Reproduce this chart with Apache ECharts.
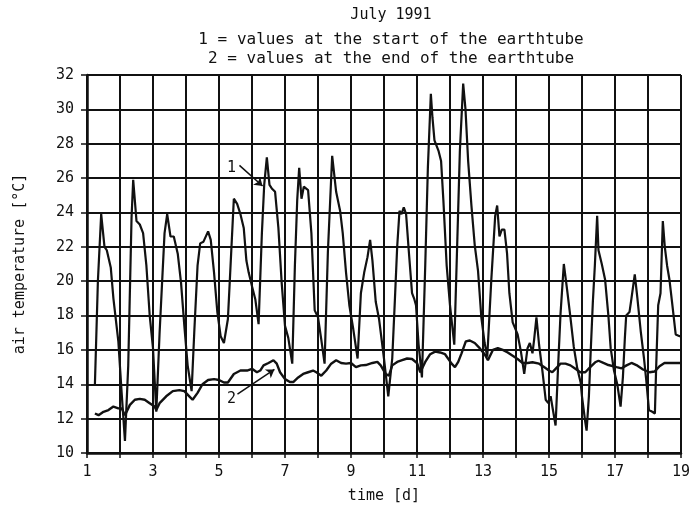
<!DOCTYPE html>
<html>
<head>
<meta charset="utf-8">
<script src="https://cdn.jsdelivr.net/npm/echarts@6/dist/echarts.min.js"></script>
<style>
  html, body { margin: 0; padding: 0; background: #fff; }
  #chart { width: 693px; height: 509px; }
</style>
</head>
<body>
<div id="chart"></div>
<script>
// curve 1: start of the earthtube (day, °C)
const startDays = [1.24,1.33,1.43,1.53,1.6,1.65,1.72,1.8,1.95,2.05,2.15,2.25,2.35,2.4,2.5,2.6,2.7,2.8,2.9,3.0,3.1,3.2,3.35,3.43,3.53,3.63,3.75,3.85,3.95,4.05,4.17,4.25,4.35,4.43,4.53,4.67,4.75,4.85,4.95,5.05,5.15,5.27,5.35,5.45,5.55,5.65,5.75,5.83,5.9,6.0,6.1,6.2,6.3,6.37,6.45,6.53,6.6,6.7,6.8,6.9,7.0,7.1,7.22,7.3,7.37,7.43,7.5,7.57,7.7,7.8,7.9,8.0,8.1,8.2,8.3,8.43,8.55,8.67,8.75,8.85,8.95,9.07,9.2,9.3,9.4,9.5,9.58,9.65,9.75,9.85,10.0,10.13,10.25,10.33,10.4,10.47,10.53,10.6,10.67,10.75,10.85,10.92,10.97,11.05,11.15,11.25,11.33,11.42,11.47,11.53,11.65,11.73,11.8,11.9,12.0,12.13,12.2,12.3,12.4,12.47,12.55,12.65,12.75,12.85,12.95,13.05,13.13,13.25,13.37,13.43,13.5,13.57,13.65,13.73,13.8,13.9,14.05,14.15,14.25,14.35,14.42,14.5,14.55,14.62,14.7,14.8,14.9,14.98,15.05,15.12,15.2,15.28,15.35,15.45,15.55,15.65,15.75,15.86,15.96,16.0,16.1,16.14,16.21,16.26,16.33,16.39,16.46,16.5,16.6,16.7,16.8,16.87,16.97,17.07,17.17,17.24,17.3,17.34,17.44,17.5,17.6,17.68,17.78,17.88,17.95,18.03,18.13,18.21,18.25,18.31,18.38,18.45,18.51,18.58,18.65,18.74,18.84,18.96,19.0];
const startTemps = [14.0,20.0,23.9,22.0,21.8,21.8,20.8,19.0,16.5,13.5,10.7,15.1,23.7,25.9,23.5,23.3,22.8,20.9,18.0,16.1,12.4,17.0,22.8,23.9,22.6,22.6,21.6,19.9,17.4,15.1,13.6,17.0,20.9,22.2,22.3,22.9,22.4,20.5,18.2,16.8,16.4,17.8,20.9,24.8,24.5,23.9,23.1,21.2,20.5,19.7,18.95,17.5,22.8,25.6,27.2,25.6,25.4,25.2,23.1,19.9,17.4,16.7,15.2,20.9,24.7,26.6,24.8,25.5,25.3,22.8,18.3,17.9,16.6,15.2,21.7,27.3,25.2,24.1,22.8,20.5,18.6,17.2,15.5,19.3,20.5,21.4,22.4,21.2,18.8,17.8,15.5,13.3,15.5,18.9,22.0,24.1,23.9,24.3,23.9,21.8,19.3,18.95,18.6,16.3,14.4,20.9,26.6,30.9,29.5,28.2,27.6,27.0,24.7,20.9,18.6,16.3,20.9,27.6,31.5,30.0,27.0,24.4,22.1,20.6,17.9,16.4,15.6,20.0,23.8,24.4,22.6,23.0,23.0,21.6,19.3,17.6,16.9,15.9,14.6,16.1,16.4,15.8,16.6,17.9,16.3,14.8,13.1,12.9,13.3,12.5,11.6,15.2,18.1,21.0,19.5,17.9,16.2,14.9,14.1,13.3,11.8,11.3,13.3,15.7,18.8,20.9,23.8,21.8,21.0,20.1,18.0,16.1,14.8,14.0,12.7,14.4,16.7,18.0,18.2,19.0,20.4,19.0,17.1,15.5,14.2,12.5,12.4,12.3,15.1,18.6,19.3,23.5,22.0,20.9,20.1,18.6,16.9,16.8,16.8];

// curve 2: end of the earthtube
const endDays = [1.24,1.35,1.5,1.65,1.8,1.95,2.05,2.15,2.3,2.45,2.6,2.75,2.9,3.05,3.1,3.2,3.4,3.6,3.8,3.95,4.1,4.2,4.35,4.5,4.67,4.85,5.0,5.15,5.27,5.45,5.65,5.85,6.0,6.15,6.25,6.35,6.5,6.65,6.75,6.85,7.0,7.15,7.25,7.4,7.55,7.7,7.85,7.95,8.1,8.25,8.4,8.55,8.7,8.85,9.0,9.15,9.3,9.45,9.65,9.8,9.9,10.05,10.15,10.25,10.4,10.55,10.7,10.85,11.0,11.1,11.25,11.4,11.55,11.7,11.85,12.05,12.15,12.25,12.35,12.48,12.6,12.75,12.9,13.05,13.15,13.3,13.45,13.6,13.75,13.9,14.05,14.2,14.35,14.5,14.7,14.85,15.0,15.1,15.2,15.35,15.5,15.65,15.8,15.95,16.1,16.25,16.4,16.5,16.65,16.8,17.05,17.2,17.35,17.5,17.65,17.85,18.05,18.2,18.35,18.5,18.7,19.0];
const endTemps = [12.3,12.2,12.4,12.5,12.7,12.6,12.6,12.2,12.8,13.1,13.15,13.1,12.9,12.7,12.5,12.9,13.3,13.6,13.66,13.6,13.3,13.1,13.5,14.0,14.25,14.3,14.25,14.1,14.1,14.6,14.8,14.8,14.9,14.7,14.8,15.1,15.24,15.4,15.2,14.7,14.3,14.13,14.13,14.4,14.6,14.7,14.8,14.7,14.5,14.8,15.2,15.4,15.24,15.2,15.24,15.0,15.1,15.12,15.24,15.3,15.1,14.6,14.5,15.1,15.3,15.4,15.5,15.47,15.24,14.7,15.3,15.75,15.9,15.85,15.75,15.2,15.0,15.3,15.8,16.5,16.55,16.4,16.1,15.75,15.4,16.0,16.1,16.0,15.85,15.66,15.47,15.24,15.24,15.28,15.2,15.0,14.8,14.7,14.9,15.2,15.2,15.1,14.9,14.7,14.7,15.0,15.28,15.37,15.24,15.12,15.0,14.93,15.1,15.24,15.12,14.86,14.7,14.74,15.05,15.24,15.24,15.24];

// annotation arrows and labels [day, °C]
const arrow1 = [[5.62, 26.74], [6.32, 25.54]];
const label1 = [5.38, 26.57];
const arrow2 = [[5.56, 13.43], [6.68, 14.86]];
const label2 = [5.38, 13.14];

const titleLines = ['July 1991', '1 = values at the start of the earthtube', '2 = values at the end of the earthtube'];

const mono = 'DejaVu Sans Mono';
const zip = (xs, ys) => xs.map((x, i) => [x, ys[i]]);

const chart = echarts.init(document.getElementById('chart'));

const option = {
  backgroundColor: '#fff',
  animation: false,
  title: titleLines.map((t, i) => ({
    text: t,
    left: 386,
    textAlign: 'center',
    top: [3, 27, 46][i],
    textStyle: { fontFamily: mono, fontSize: i === 0 ? 15 : 16, fontWeight: 'normal', color: '#111' }
  })),
  grid: { left: 87, right: 10, top: 75, bottom: 49 },
  xAxis: {
    type: 'value',
    min: 1,
    max: 19,
    interval: 1,
    name: 'time [d]',
    nameLocation: 'middle',
    nameGap: 36,
    nameTextStyle: { fontFamily: mono, fontSize: 15, color: '#111' },
    axisLine: { lineStyle: { color: '#111', width: 2.5 } },
    axisTick: { show: true, length: 5, lineStyle: { color: '#111', width: 1.5 } },
    axisLabel: {
      fontFamily: mono, fontSize: 15, color: '#111', margin: 12,
      formatter: v => (v % 2 === 1 ? String(v) : '')
    },
    splitLine: { show: true, lineStyle: { color: '#111', width: 2 } }
  },
  yAxis: {
    type: 'value',
    min: 10,
    max: 32,
    interval: 2,
    name: 'air temperature [°C]',
    nameLocation: 'middle',
    nameGap: 59,
    nameTextStyle: { fontFamily: mono, fontSize: 15, color: '#111' },
    axisLine: { show: true, lineStyle: { color: '#111', width: 2.5 } },
    axisTick: { show: true, length: 6, lineStyle: { color: '#111', width: 1.5 } },
    axisLabel: { fontFamily: mono, fontSize: 15, color: '#111', margin: 13 },
    splitLine: { show: true, lineStyle: { color: '#111', width: 2 } }
  },
  series: [
    {
      name: '1',
      type: 'line',
      data: zip(startDays, startTemps),
      showSymbol: false,
      lineStyle: { color: '#111', width: 2.2 },
      markLine: {
        silent: true,
        symbol: ['none', 'arrow'],
        symbolSize: 8,
        lineStyle: { color: '#111', width: 1.5, type: 'solid' },
        label: { show: false },
        data: [[{ coord: arrow1[0] }, { coord: arrow1[1] }]]
      },
      markPoint: {
        silent: true,
        symbol: 'circle',
        symbolSize: 1,
        itemStyle: { color: 'rgba(0,0,0,0)' },
        label: { show: true, position: 'inside', formatter: '1', fontFamily: mono, fontSize: 15, color: '#111' },
        data: [{ coord: label1 }]
      }
    },
    {
      name: '2',
      type: 'line',
      data: zip(endDays, endTemps),
      showSymbol: false,
      lineStyle: { color: '#111', width: 2.4 },
      markLine: {
        silent: true,
        symbol: ['none', 'arrow'],
        symbolSize: 8,
        lineStyle: { color: '#111', width: 1.5, type: 'solid' },
        label: { show: false },
        data: [[{ coord: arrow2[0] }, { coord: arrow2[1] }]]
      },
      markPoint: {
        silent: true,
        symbol: 'circle',
        symbolSize: 1,
        itemStyle: { color: 'rgba(0,0,0,0)' },
        label: { show: true, position: 'inside', formatter: '2', fontFamily: mono, fontSize: 15, color: '#111' },
        data: [{ coord: label2 }]
      }
    }
  ]
};

chart.setOption(option);
</script>
</body>
</html>
